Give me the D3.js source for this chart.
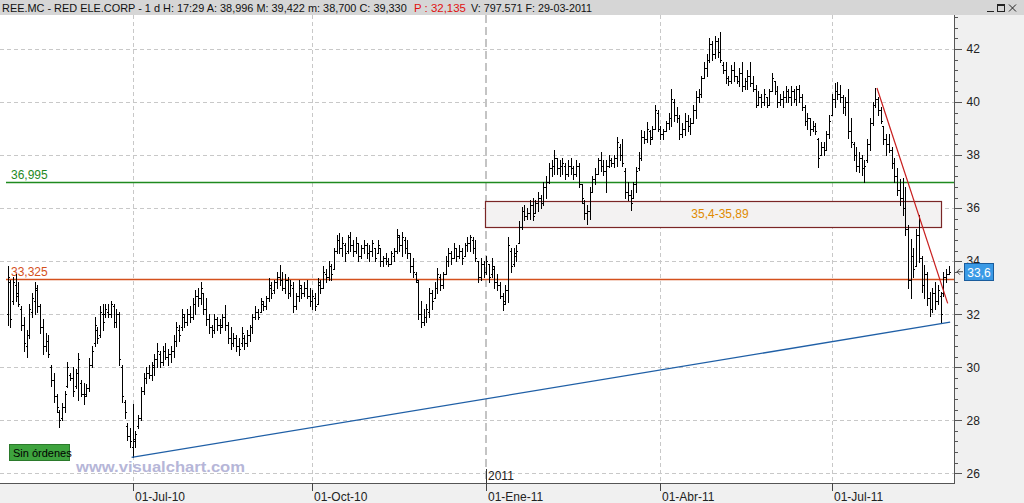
<!DOCTYPE html>
<html><head><meta charset="utf-8">
<script src="https://cdn.jsdelivr.net/npm/d3@7"></script>
<style>
html,body{margin:0;padding:0;background:#fff;}
svg{display:block;font-family:"Liberation Sans",Arial,sans-serif;}
</style></head>
<body>
<svg id="c" width="1024" height="503"></svg>
<script>
// ---- data ----
const highs = [
33.8,33.3,33.4,33.5,33.2,32.3,31.9,31.4,32.4,32.8,
33.2,33.1,32.4,31.8,31.3,31.2,30.1,29.8,29.0,28.4,
28.65,29.1,30.2,29.8,30.0,29.95,30.55,29.5,29.4,29.35,
30.35,30.8,31.9,31.5,32.3,32.4,32.4,32.4,32.5,32.4,
32.2,32.1,30.1,28.75,27.9,27.7,28.6,27.6,28.2,29.25,
29.8,30.0,30.1,30.2,30.5,30.9,30.6,30.8,30.9,30.7,
30.8,31.2,31.7,31.6,32.2,32.0,32.2,32.3,32.6,32.9,
33.0,33.2,32.8,32.6,32.0,31.6,32.0,31.9,31.8,32.0,
32.35,31.7,31.5,31.3,31.2,31.1,31.5,31.2,31.4,31.6,
32.0,32.3,32.2,32.6,32.5,32.7,33.35,33.2,33.3,33.6,
33.85,33.6,33.5,33.4,33.3,33.2,32.8,33.3,33.1,33.2,
33.3,33.0,32.9,32.8,33.35,33.3,33.8,33.7,34.0,33.9,
34.5,35.0,35.05,34.9,34.7,35.0,35.1,34.8,34.9,34.7,
34.6,34.8,34.7,34.6,34.8,34.5,34.8,34.5,34.2,34.3,
34.1,34.4,34.5,35.2,35.0,35.1,34.9,34.8,34.3,34.1,
33.6,33.3,32.5,32.2,32.4,33.0,32.9,33.2,33.75,33.5,
33.6,34.2,34.5,34.4,34.7,34.5,34.6,34.5,34.7,34.9,
35.0,34.9,34.8,34.0,34.1,34.0,34.2,33.9,34.1,33.8,
33.5,33.2,32.8,33.1,34.9,34.5,34.5,34.6,35.5,36.05,
36.1,36.0,36.3,36.4,36.3,36.6,36.5,37.0,37.2,37.7,
37.8,38.2,37.9,37.8,37.9,37.7,37.8,37.9,37.6,37.8,
37.7,36.9,36.3,36.1,36.8,37.2,37.5,37.9,38.1,37.8,
37.8,38.0,37.9,38.0,38.7,38.4,38.6,37.5,37.0,36.7,
37.0,37.55,38.1,38.95,38.9,39.25,38.95,39.1,39.9,39.7,
39.1,39.0,39.3,39.6,40.5,40.1,39.8,39.5,39.2,39.6,
39.5,39.4,39.9,40.4,40.5,41.0,41.5,41.8,42.4,42.3,
42.5,42.4,42.65,41.5,41.5,41.0,41.4,41.5,41.0,41.3,
41.5,40.9,41.2,41.5,41.0,40.65,40.4,40.3,40.5,40.2,
40.5,41.1,40.8,40.6,40.3,40.4,40.6,40.5,40.6,40.5,
40.6,40.65,40.3,39.9,39.6,39.4,39.3,39.2,38.65,38.5,
38.5,38.9,39.5,40.3,40.7,40.77,40.65,40.25,40.2,40.5,
39.4,38.5,38.3,38.1,38.0,37.8,38.6,39.4,40.0,40.53,
40.2,39.8,39.1,38.8,38.8,38.3,37.9,37.5,37.1,37.15,
36.8,35.35,34.85,34.5,35.2,35.75,34.2,33.85,33.6,32.85,
33.0,33.2,33.1,32.85,33.6,33.7,33.8];
const lows = [
31.6,31.5,32.4,32.5,32.3,31.4,30.6,30.4,31.1,31.9,
32.0,32.1,31.3,30.5,30.6,30.4,29.3,28.7,28.3,27.75,
28.0,28.3,29.25,29.5,28.9,29.2,28.75,28.9,28.6,28.9,
29.1,30.0,30.8,30.9,31.15,31.4,31.9,31.9,31.9,31.5,
31.5,30.1,28.7,28.1,27.25,27.0,26.6,27.0,27.7,28.0,
29.0,29.4,29.6,29.5,29.7,30.0,30.0,30.1,30.3,30.1,
30.2,30.4,30.8,31.0,31.4,31.5,31.6,31.7,31.8,32.0,
32.3,32.4,32.0,31.6,31.3,31.15,31.3,31.4,31.3,31.5,
31.4,30.9,30.7,30.8,30.6,30.45,30.8,30.7,30.8,31.0,
31.3,31.8,31.8,32.1,32.15,32.2,32.5,32.6,32.8,33.0,
33.1,32.9,32.8,32.6,32.7,32.1,32.2,32.5,32.6,32.7,
32.6,32.3,32.2,32.15,32.4,32.8,33.0,33.2,33.3,33.3,
33.7,34.3,34.3,34.2,34.0,34.3,34.4,34.2,34.3,34.0,
34.1,34.3,34.1,34.0,34.2,34.0,34.3,33.8,33.8,33.9,
33.8,33.9,34.0,34.3,34.4,34.2,34.3,34.1,33.6,33.4,
33.2,31.8,31.5,31.6,31.7,31.9,32.2,32.6,32.8,32.9,
33.0,33.5,33.8,33.9,34.1,34.0,34.1,33.9,34.2,34.4,
34.4,34.3,34.0,33.2,33.3,33.4,33.5,33.2,33.4,33.0,
32.9,32.6,32.15,32.4,32.45,33.6,33.8,34.0,34.7,35.2,
35.55,35.6,35.6,35.55,35.8,35.9,36.0,36.1,36.4,36.95,
37.2,37.3,37.3,37.2,37.3,37.1,37.2,37.3,37.1,37.2,
36.8,36.2,35.6,35.4,35.6,36.6,36.9,37.3,37.4,37.25,
36.6,37.55,37.6,37.55,37.6,37.8,37.6,36.4,36.3,35.93,
36.4,36.6,37.45,37.8,38.45,38.5,38.4,38.6,39.0,38.9,
38.6,38.6,38.9,39.0,39.1,39.3,39.25,38.6,38.7,38.75,
38.9,38.8,39.2,39.4,40.0,40.2,40.9,41.0,41.5,41.6,
41.65,41.7,41.5,41.1,40.7,40.65,40.7,40.8,40.7,40.6,
40.4,40.5,40.5,40.6,40.4,39.8,39.9,39.8,39.9,39.8,
39.9,40.4,40.3,39.8,39.9,39.8,40.0,40.0,39.9,40.0,
39.9,40.0,39.7,39.15,39.0,38.75,38.9,38.8,37.55,38.0,
38.0,38.2,38.65,39.5,39.8,40.1,40.0,39.6,39.5,38.65,
38.3,37.8,37.4,37.35,37.25,37.0,37.75,38.2,39.15,39.8,
39.5,39.2,38.4,38.0,38.1,37.5,37.0,36.5,36.1,35.75,
35.0,33.0,32.6,33.4,33.8,33.95,32.85,32.6,32.35,31.95,
32.1,32.2,32.4,31.65,32.7,33.2,33.5];
const opens = [
32.0,33.2,32.5,33.1,32.8,32.2,31.6,30.8,31.2,32.1,
32.5,32.9,32.3,31.5,30.8,31.0,30.0,29.5,28.9,28.3,
28.1,28.5,29.3,29.7,29.6,29.3,29.8,29.4,29.0,29.0,
29.2,30.1,30.9,31.4,31.2,32.0,32.0,32.1,32.0,32.3,
31.7,32.0,30.0,28.7,27.8,27.4,27.0,27.2,27.8,28.1,
29.1,29.6,29.8,29.7,30.0,30.3,30.5,30.2,30.6,30.4,
30.5,30.6,31.0,31.4,31.5,31.9,31.7,32.0,31.9,32.4,
32.7,32.6,32.8,32.2,31.8,31.5,31.4,31.8,31.6,31.6,
31.9,31.6,31.1,30.9,31.1,30.8,30.9,31.1,30.9,31.2,
31.5,31.9,32.1,32.1,32.4,32.3,32.6,33.0,32.9,33.2,
33.4,33.3,33.0,33.3,32.8,33.0,32.3,32.7,33.0,32.8,
33.0,32.7,32.5,32.6,32.4,33.1,33.0,33.5,33.4,33.8,
33.7,34.4,34.8,34.5,34.6,34.4,34.9,34.6,34.4,34.7,
34.2,34.5,34.6,34.3,34.4,34.5,34.3,34.5,34.0,34.1,
34.0,33.9,34.2,34.4,34.9,34.6,34.8,34.5,34.3,33.8,
33.5,33.2,32.0,31.7,31.9,32.1,32.8,32.6,33.0,33.4,
33.1,33.5,34.0,34.3,34.1,34.5,34.2,34.4,34.2,34.6,
34.7,34.8,34.5,34.0,33.4,33.9,33.6,33.9,33.5,33.7,
33.2,33.1,32.7,32.5,32.9,34.4,33.9,34.2,34.7,35.3,
35.9,35.7,35.8,36.1,35.8,36.2,36.4,36.2,36.8,37.0,
37.5,37.6,37.9,37.5,37.6,37.6,37.3,37.6,37.5,37.3,
37.6,36.9,36.2,35.8,35.9,36.6,37.1,37.3,37.8,37.6,
37.4,37.6,37.8,37.7,37.9,38.3,38.0,37.4,36.6,36.5,
36.4,36.9,37.5,37.9,38.7,38.6,38.9,38.7,39.0,39.6,
39.0,38.8,38.9,39.2,39.4,40.0,39.5,39.4,38.8,39.0,
39.3,39.1,39.2,39.7,40.2,40.3,40.9,41.3,41.6,42.2,
41.8,42.3,41.9,41.4,41.2,40.9,40.8,41.2,41.0,40.8,
41.1,40.6,40.8,41.0,40.7,40.5,39.9,40.2,40.0,40.2,
39.9,40.4,40.8,40.4,40.0,40.1,40.2,40.4,40.2,40.4,
40.1,40.5,40.2,39.8,39.3,39.4,39.0,39.1,38.6,38.0,
38.3,38.2,38.8,39.5,40.1,40.4,40.3,40.2,39.8,40.0,
38.9,38.4,38.0,37.6,37.9,37.5,37.8,38.4,39.2,39.9,
40.1,39.7,39.1,38.6,38.4,38.2,37.7,37.2,36.7,36.4,
36.0,35.2,33.3,34.2,33.8,35.0,34.1,33.1,33.5,32.6,
32.2,32.8,32.5,32.7,32.8,33.4,33.5];
const closes = [
33.4,31.8,33.2,32.7,32.4,31.6,30.9,31.2,32.2,32.6,
33.0,32.3,31.5,30.8,31.0,30.5,29.5,28.9,28.5,28.0,
28.5,29.0,30.0,29.6,29.1,29.8,30.3,29.0,28.9,29.2,
30.1,30.6,31.6,31.1,32.1,31.7,32.2,32.0,32.4,31.7,
32.0,30.3,28.9,28.3,27.4,27.2,27.3,27.5,28.1,29.1,
29.6,29.8,29.7,30.1,30.3,30.6,30.2,30.6,30.4,30.5,
30.6,31.0,31.5,31.2,32.0,31.7,32.0,31.9,32.4,32.7,
32.6,33.0,32.2,31.8,31.5,31.4,31.8,31.6,31.5,31.9,
31.6,31.1,30.9,31.1,30.8,30.7,31.3,30.9,31.2,31.5,
31.9,32.1,31.9,32.5,32.3,32.6,33.1,32.8,33.2,33.4,
33.3,33.0,33.3,32.8,33.1,32.3,32.7,33.1,32.8,33.0,
32.7,32.5,32.7,32.3,33.2,33.0,33.6,33.4,33.8,33.5,
34.4,34.8,34.5,34.7,34.3,34.9,34.6,34.4,34.7,34.2,
34.5,34.6,34.3,34.4,34.7,34.1,34.6,34.0,34.1,34.0,
33.9,34.3,34.4,35.0,34.6,34.9,34.5,34.3,33.8,33.6,
33.3,32.0,31.7,31.9,32.2,32.8,32.5,33.0,33.5,33.1,
33.5,34.0,34.3,34.1,34.5,34.2,34.4,34.1,34.6,34.7,
34.9,34.5,34.1,33.4,33.9,33.6,34.0,33.4,33.8,33.2,
33.1,32.7,32.4,32.9,34.6,33.8,34.3,34.4,35.3,35.9,
35.7,35.8,36.1,35.7,36.2,36.4,36.2,36.8,37.0,37.5,
37.6,37.9,37.5,37.6,37.7,37.3,37.6,37.5,37.3,37.6,
36.9,36.4,35.8,35.9,36.6,37.1,37.3,37.8,37.6,37.4,
37.6,37.8,37.7,37.9,38.5,38.0,37.7,36.6,36.5,36.2,
36.9,37.4,37.9,38.7,38.6,39.0,38.6,39.0,39.7,39.0,
38.8,38.9,39.2,39.4,40.1,39.5,39.4,38.8,39.0,39.3,
39.1,39.2,39.7,40.2,40.3,40.9,41.3,41.6,42.2,41.8,
42.3,41.9,41.6,41.2,40.9,40.8,41.2,41.0,40.8,41.1,
40.6,40.8,41.0,40.7,40.5,39.9,40.2,40.0,40.3,39.9,
40.4,40.9,40.4,40.0,40.1,40.2,40.4,40.2,40.4,40.1,
40.5,40.2,39.8,39.3,39.4,39.0,39.1,38.9,37.9,38.3,
38.2,38.8,39.3,40.1,40.4,40.3,40.2,39.8,40.0,38.9,
38.5,38.0,37.6,37.9,37.5,37.6,38.4,39.2,39.9,40.1,
39.7,39.3,38.6,38.4,38.2,37.7,37.2,36.7,36.4,36.0,
35.2,33.3,34.2,33.7,35.0,34.1,33.1,33.5,32.6,32.2,
32.8,32.5,32.9,32.0,33.4,33.5,33.6];

// date ticks (bar index of first session of each quarter)
const tickIdx = [46, 112, 176, 240, 303];
const tickLabels = ["01-Jul-10", "01-Oct-10", "01-Ene-11", "01-Abr-11", "01-Jul-11"];
const yearIdx = 176, yearLabel = "2011";
const yTicks = [26, 28, 30, 32, 34, 36, 38, 40, 42];

// horizontal levels
const levelValues = [36.995, 33.325];
const levelColors = ["#1f8a1f", "#d4501c"];
// zone box
const zoneRange = [35.29, 36.27];
const zoneIdx = [175.5, 343];
const zoneLabel = "35,4-35,89";
// trend lines: [idx, price]
const blueLine = [[45.6, 26.6], [346.5, 31.7]];
const redLine = [[319.6, 40.53], [345.6, 32.41]];

const headerParts = ["REE.MC - RED ELE.CORP -  1 d  H: 17:29  A: 38,996  M: 39,422  m: 38,700  C: 39,330", "P : 32,135", "V: 797.571   F: 29-03-2011"];
const headerColors = ["#111", "#e01010", "#111"];

// ---- layout ----
const W = 1024, H = 503;
const plotTop = 15, plotBottom = 483, axisX = 954;
const svg = d3.select("#c");

const x = d3.scaleLinear().domain([46, 303]).range([132.7, 831.8]);
const y = d3.scaleLinear().domain([26, 42]).range([473.3, 49]);

svg.append("rect").attr("x",0).attr("y",0).attr("width",W).attr("height",H).attr("fill","#fff");

// grid
const grid = svg.append("g").attr("shape-rendering","crispEdges");
grid.selectAll("line.h").data(yTicks).join("line")
  .attr("x1",0).attr("x2",axisX)
  .attr("y1",d=>Math.round(y(d))+0.5).attr("y2",d=>Math.round(y(d))+0.5)
  .attr("stroke","#c8c8c8").attr("stroke-dasharray","4,3");
grid.selectAll("line.v").data(tickIdx.filter(d=>d!==yearIdx)).join("line")
  .attr("x1",d=>Math.round(x(d))+0.5).attr("x2",d=>Math.round(x(d))+0.5)
  .attr("y1",plotTop).attr("y2",plotBottom)
  .attr("stroke","#c8c8c8").attr("stroke-dasharray","4,3");
svg.append("line")
  .attr("x1",Math.round(x(yearIdx))).attr("x2",Math.round(x(yearIdx)))
  .attr("y1",plotTop).attr("y2",plotBottom)
  .attr("stroke","#c4c4c4").attr("stroke-width",2).attr("stroke-dasharray","8,4");

// zone box
svg.append("rect")
  .attr("x",Math.round(x(zoneIdx[0]))+0.5).attr("y",Math.round(y(zoneRange[1]))+0.5)
  .attr("width",Math.round(x(zoneIdx[1])-x(zoneIdx[0])))
  .attr("height",Math.round(y(zoneRange[0])-y(zoneRange[1])))
  .attr("fill","#f3f2f2").attr("stroke","#7a2626").attr("stroke-width",1.2);
svg.append("text").attr("x",720).attr("y",y((zoneRange[0]+zoneRange[1])/2)+4.5)
  .attr("text-anchor","middle").attr("font-size",12).attr("fill","#e08a00").text(zoneLabel);

// level lines
levelValues.forEach((v,i)=>{
  const yy = Math.round(y(v))+0.5;
  svg.append("line").attr("x1",6).attr("x2",axisX).attr("y1",yy).attr("y2",yy)
    .attr("stroke",levelColors[i]).attr("stroke-width",1.3);
  svg.append("text").attr("x",11).attr("y",yy-3.5).attr("font-size",12)
    .attr("fill",levelColors[i]).text(d3.format(".3f")(v).replace(".",","));
});

// OHLC bars
const n = Math.min(highs.length, lows.length, opens.length, closes.length);
const bars = d3.range(n);
const px = i => Math.round(x(i)) + 0.5;
const py = v => Math.round(y(v)) + 0.5;
svg.append("path")
  .attr("fill","none").attr("stroke","#000").attr("stroke-width",1)
  .attr("shape-rendering","crispEdges")
  .attr("d", bars.map(i=>{
    const xx = px(i);
    return `M${xx},${Math.round(y(highs[i]))}V${Math.round(y(lows[i]))+1}` +
           `M${xx-1.5},${py(opens[i])}H${xx}` +
           `M${xx},${py(closes[i])}H${xx+1.5}`;
  }).join(""));

// trend lines
const lineGen = d3.line().x(d=>x(d[0])).y(d=>y(d[1]));
svg.append("path").attr("d",lineGen(blueLine)).attr("fill","none")
  .attr("stroke","#1f5fa6").attr("stroke-width",1.3);
svg.append("path").attr("d",lineGen(redLine)).attr("fill","none")
  .attr("stroke","#c81e1e").attr("stroke-width",1.2);

// watermark & badges
svg.append("text").attr("x",76).attr("y",472).attr("font-size",15.5).attr("font-weight","bold")
  .attr("fill","#b6b6d8").attr("textLength",169).attr("lengthAdjust","spacingAndGlyphs")
  .text("www.visualchart.com");
svg.append("rect").attr("x",9.5).attr("y",444.5).attr("width",60).attr("height",16)
  .attr("fill","#3ea33e").attr("stroke","#2b7a2b");
svg.append("text").attr("x",13).attr("y",457).attr("font-size",11).attr("fill","#000").text("Sin órdenes");

// year marker
svg.append("line").attr("x1",Math.round(x(yearIdx))+0.5).attr("x2",Math.round(x(yearIdx))+0.5)
  .attr("y1",469).attr("y2",plotBottom).attr("stroke","#333").attr("shape-rendering","crispEdges");
svg.append("text").attr("x",Math.round(x(yearIdx))+2).attr("y",480).attr("font-size",12)
  .attr("fill","#222").text(yearLabel);

// right axis panel
svg.append("rect").attr("x",axisX).attr("y",plotTop).attr("width",W-axisX).attr("height",plotBottom-plotTop).attr("fill","#f0f0f0");
svg.append("line").attr("x1",axisX+0.5).attr("x2",axisX+0.5).attr("y1",plotTop).attr("y2",plotBottom)
  .attr("stroke","#555").attr("shape-rendering","crispEdges");
const minor = d3.range(25.6, 43.4, 0.4).filter(v=>y(v)>=plotTop+1 && y(v)<=plotBottom-1);
const minorAxis = svg.append("g").attr("transform",`translate(${axisX+0.5},0)`)
  .call(d3.axisRight(y).tickValues(minor).tickSize(3).tickFormat(""));
const majorAxis = svg.append("g").attr("transform",`translate(${axisX+0.5},0)`)
  .call(d3.axisRight(y).tickValues(yTicks).tickSize(7).tickPadding(5).tickFormat(d3.format("d")));
[minorAxis, majorAxis].forEach(g=>{
  g.select(".domain").remove();
  g.selectAll("line").attr("stroke","#555").attr("shape-rendering","crispEdges");
  g.selectAll("text").attr("font-size",12).attr("fill","#222").attr("font-family","Liberation Sans, Arial, sans-serif");
});

// last price badge
const last = closes[n-1];
const ly = y(last);
svg.append("path").attr("d",`M${axisX+3},${ly}H${axisX+9}M${axisX+3},${ly}l3,-3M${axisX+3},${ly}l3,3`)
  .attr("stroke","#444").attr("fill","none");
svg.append("rect").attr("x",964.5).attr("y",Math.round(ly)-8.5).attr("width",29).attr("height",17)
  .attr("fill","#3a9ae6").attr("stroke","#1a5c9c");
svg.append("text").attr("x",979).attr("y",Math.round(ly)+4.5).attr("text-anchor","middle")
  .attr("font-size",12).attr("fill","#fff").text(d3.format(".1f")(last).replace(".",","));

// bottom axis band
svg.append("rect").attr("x",0).attr("y",plotBottom).attr("width",W).attr("height",H-plotBottom).attr("fill","#f0f0f0");
svg.append("line").attr("x1",0).attr("x2",axisX+1).attr("y1",plotBottom+0.5).attr("y2",plotBottom+0.5)
  .attr("stroke","#555").attr("shape-rendering","crispEdges");
const xAxis = svg.append("g").attr("transform",`translate(0,${plotBottom})`)
  .call(d3.axisBottom(x).tickValues(tickIdx).tickSize(8).tickPadding(1).tickFormat((d,i)=>tickLabels[i]));
xAxis.select(".domain").remove();
xAxis.selectAll(".tick").attr("transform",d=>`translate(${Math.round(x(d))+0.5},0)`);
xAxis.selectAll("line").attr("stroke","#444").attr("shape-rendering","crispEdges");
xAxis.selectAll("text").attr("text-anchor","start").attr("dx",1.5).attr("font-size",12)
  .attr("fill","#222").attr("font-family","Liberation Sans, Arial, sans-serif");

// title bar
svg.append("rect").attr("x",0).attr("y",0).attr("width",W).attr("height",plotTop).attr("fill","#d6d6d6");
const headerPos = [[2, 405], [414, 52], [471, 121]];
headerParts.forEach((t,i)=>{
  const tx = svg.append("text").attr("x",headerPos[i][0]).attr("y",11.5).attr("font-size",12)
    .attr("fill",headerColors[i]).text(t);
  const len = tx.node().getComputedTextLength();
  const fs = Math.min(12, 12 * headerPos[i][1] / len);
  tx.attr("font-size", fs.toFixed(2));
});
// window buttons
const wb = svg.append("g").attr("stroke","#222").attr("fill","none").attr("shape-rendering","crispEdges");
wb.append("line").attr("x1",987).attr("x2",994).attr("y1",11.5).attr("y2",11.5);
wb.append("rect").attr("x",997.5).attr("y",4.5).attr("width",7).attr("height",7);
wb.append("line").attr("x1",997.5).attr("x2",1004.5).attr("y1",5.5).attr("y2",5.5);
wb.append("path").attr("d","M1009,4.5L1016,11.5M1016,4.5L1009,11.5").attr("shape-rendering","auto");
</script>
</body></html>
